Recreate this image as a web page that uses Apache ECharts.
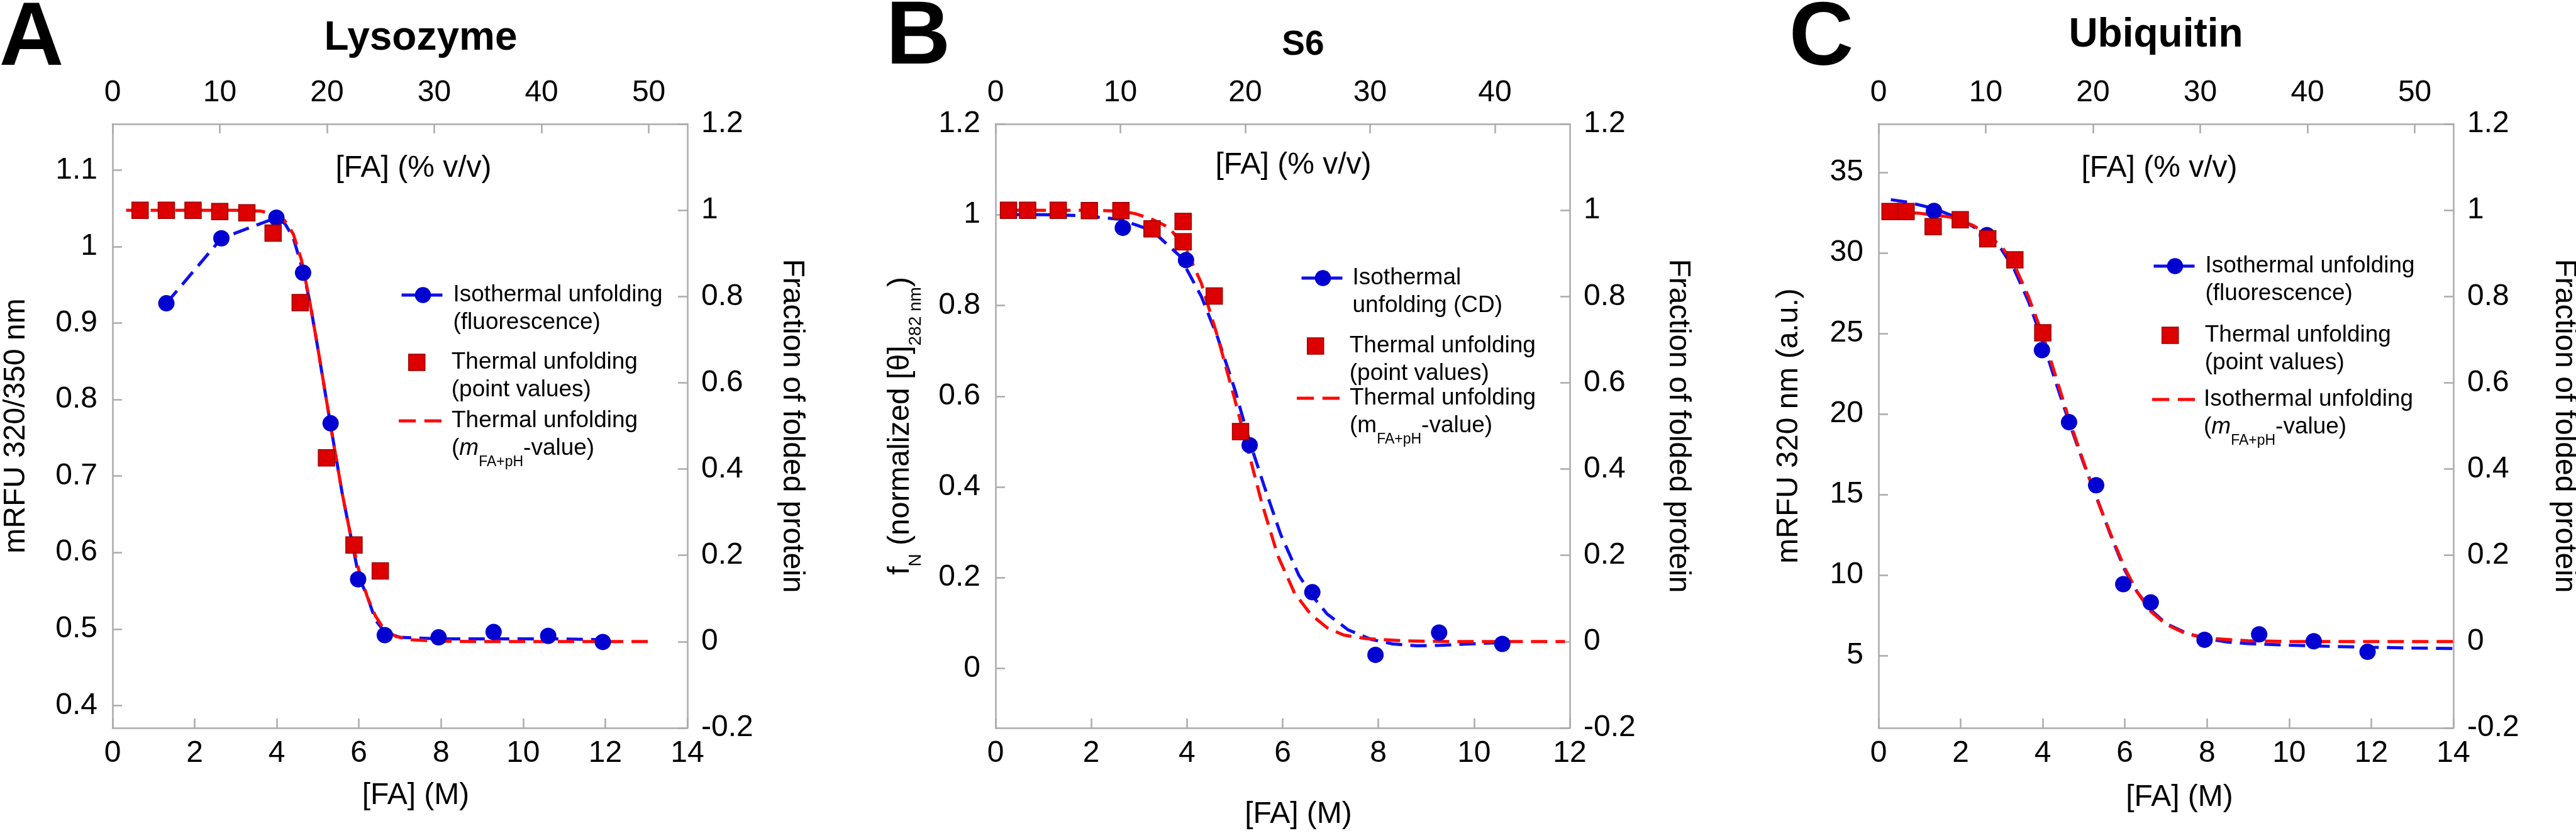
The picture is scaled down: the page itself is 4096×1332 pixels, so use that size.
<!DOCTYPE html>
<html><head><meta charset="utf-8">
<script src="https://cdn.jsdelivr.net/npm/echarts@6/dist/echarts.min.js"></script>
<style>html,body{margin:0;padding:0;background:#fff}#c{width:4096px;height:1332px}</style>
</head><body><div id="c"></div>
<script>
// ================= DATA =================
// Panel A – Lysozyme
const A_isoX = [1.31, 2.65, 3.99, 4.64, 5.31, 5.98, 6.63, 7.94, 9.28, 10.61, 11.94];
const A_isoY = [0.926, 1.011, 1.038, 0.966, 0.769, 0.565, 0.492, 0.489, 0.496, 0.491, 0.483];
const A_isoFitX = [1.31, 2.65, 3.99, 4.2, 4.4, 4.64, 4.8, 5.0, 5.2, 5.4, 5.6, 5.8, 6.0, 6.2, 6.4, 6.63, 7.0, 8.0, 9.0, 10.0, 11.0, 11.94];
const A_isoFitY = [0.926, 1.011, 1.038, 1.03, 1.012, 0.968, 0.929, 0.867, 0.802, 0.738, 0.675, 0.622, 0.568, 0.543, 0.512, 0.496, 0.489, 0.487, 0.487, 0.487, 0.487, 0.486];
const A_thermX = [0.67, 1.31, 1.96, 2.61, 3.27, 3.91, 4.57, 5.21, 5.88, 6.52];
const A_thermY = [1.0, 1.0, 1.0, 0.997, 0.994, 0.947, 0.786, 0.426, 0.224, 0.164];
const A_thermFitX = [0.33, 1, 2, 3, 3.6, 4.0, 4.2, 4.4, 4.6, 4.8, 5.0, 5.2, 5.4, 5.6, 5.8, 6.0, 6.2, 6.4, 6.6, 6.9, 7.3, 8, 9, 10, 11, 12, 13.2];
const A_thermFitY = [1, 1, 1, 1, 0.998, 0.99, 0.975, 0.945, 0.885, 0.79, 0.68, 0.565, 0.45, 0.34, 0.245, 0.165, 0.105, 0.06, 0.03, 0.012, 0.004, 0.001, 0, 0, 0, 0, 0];

// Panel B – S6
const B_isoX = [2.66, 3.98, 5.31, 6.62, 7.94, 9.27, 10.59];
const B_isoY = [0.971, 0.900, 0.492, 0.168, 0.030, 0.079, 0.054];
const B_isoFitX = [0.3, 1.0, 1.8, 2.6, 3.27, 3.84, 4.3, 4.64, 5.0, 5.31, 5.62, 5.96, 6.34, 6.62, 6.93, 7.37, 7.85, 8.3, 8.8, 9.3, 9.9, 10.59];
const B_isoFitY = [1.0, 1.0, 0.998, 0.99, 0.965, 0.91, 0.82, 0.73, 0.615, 0.50, 0.40, 0.295, 0.205, 0.16, 0.12, 0.085, 0.064, 0.054, 0.05, 0.051, 0.054, 0.057];
const B_thermX = [0.27, 0.67, 1.31, 1.96, 2.62, 3.27, 3.92, 3.92, 4.57, 5.12];
const B_thermY = [1.0, 1.0, 1.0, 0.999, 0.999, 0.957, 0.974, 0.927, 0.801, 0.487];
const B_thermFitX = [0.2, 1, 2, 2.6, 2.92, 3.27, 3.61, 3.95, 4.3, 4.64, 4.99, 5.21, 5.56, 5.9, 6.25, 6.59, 6.93, 7.28, 7.74, 8.5, 9.5, 10.5, 11.9];
const B_thermFitY = [1, 1, 1, 0.998, 0.992, 0.979, 0.961, 0.917, 0.831, 0.707, 0.565, 0.472, 0.323, 0.199, 0.112, 0.063, 0.032, 0.015, 0.007, 0.002, 0, 0, 0];

// Panel C – Ubiquitin
const C_isoX = [1.35, 2.64, 3.98, 4.64, 5.30, 5.96, 6.63, 7.94, 9.27, 10.6, 11.91];
const C_isoY = [32.6, 31.1, 23.96, 19.49, 15.58, 9.44, 8.31, 5.99, 6.33, 5.9, 5.24];
const C_isoFitX = [0.3, 0.7, 1.35, 2.0, 2.64, 3.0, 3.3, 3.65, 4.0, 4.3, 4.64, 5.0, 5.3, 5.65, 6.0, 6.3, 6.63, 7.0, 7.5, 8.0, 8.5, 9.0, 10.0, 11.0, 12.0, 13.0, 14.0];
const C_isoFitY = [33.3, 33.15, 32.75, 32.1, 31.1, 30.2, 29.0, 27.0, 24.5, 22.1, 19.5, 16.9, 14.9, 12.5, 10.3, 8.95, 7.85, 7.0, 6.4, 6.05, 5.85, 5.75, 5.65, 5.58, 5.52, 5.48, 5.45];
const C_thermX = [0.28, 0.67, 1.33, 1.99, 2.66, 3.32, 4.0];
const C_thermY = [0.997, 0.997, 0.962, 0.978, 0.934, 0.885, 0.716];
const C_thermFitX = [0.28, 1.0, 1.75, 2.3, 2.64, 3.0, 3.3, 3.65, 4.0, 4.3, 4.64, 5.0, 5.3, 5.65, 6.0, 6.3, 6.63, 7.0, 7.5, 8.0, 9.0, 10, 12, 14];
const C_thermFitY = [0.997, 0.993, 0.984, 0.965, 0.945, 0.915, 0.875, 0.80, 0.71, 0.62, 0.515, 0.415, 0.335, 0.25, 0.17, 0.115, 0.07, 0.04, 0.018, 0.008, 0.002, 0, 0, 0];

// Tick labels
const ticksM14 = [0, 2, 4, 6, 8, 10, 12, 14];
const ticksM12 = [0, 2, 4, 6, 8, 10, 12];
const ticksPct50 = [0, 10, 20, 30, 40, 50];
const ticksPct40 = [0, 10, 20, 30, 40];
const ticksFrac = [-0.2, 0, 0.2, 0.4, 0.6, 0.8, 1, 1.2];
const ticksA_left = [0.4, 0.5, 0.6, 0.7, 0.8, 0.9, 1, 1.1];
const ticksB_left = [0, 0.2, 0.4, 0.6, 0.8, 1, 1.2];
const ticksC_left = [5, 10, 15, 20, 25, 30, 35];

// Texts
const panelLetters = ['A', 'B', 'C'];
const panelTitles = ['Lysozyme', 'S6', 'Ubiquitin'];
const leftAxisNames = ['mRFU 320/350 nm', 'f{sub|N} (normalized [θ]{sub|282 nm})', 'mRFU 320 nm (a.u.)'];
const rightAxisName = 'Fraction of folded protein';
const bottomAxisName = '[FA] (M)';
const topAxisName = '[FA] (% v/v)';
const legendText = {
  A_isoFit: 'Isothermal unfolding\n(fluorescence)',
  A_thermPts: 'Thermal unfolding\n(point values)',
  A_thermFit: 'Thermal unfolding\n({it|m}{sub|FA+pH}-value)',
  B_isoFit: 'Isothermal\nunfolding (CD)',
  B_thermPts: 'Thermal unfolding\n(point values)',
  B_thermFit: 'Thermal unfolding\n(m{sub|FA+pH}-value)',
  C_isoFit: 'Isothermal unfolding\n(fluorescence)',
  C_thermPts: 'Thermal unfolding\n(point values)',
  C_thermFit: 'Isothermal unfolding\n({it|m}{sub|FA+pH}-value)'
};

// ================= CHART =================
const FONT = 'Liberation Sans';
const AX = '#ababab';
const BLUE_LINE = '#1010F0';
const BLUE_PT = '#0000D0';
const RED_LINE = '#FF0A0A';
const RED_PT = '#DD0000';
const DASH = [26, 13];
const LW = 5;
const zip = (xs, ys) => xs.map((x, i) => [x, ys[i]]);

function mkAxis(o) {
  return {
    type: 'value', gridIndex: o.grid, position: o.pos, min: o.min, max: o.max,
    axisLine: { show: true, onZero: false, lineStyle: { color: AX, width: 2.5 } },
    axisTick: { show: true, inside: true, length: 15, customValues: o.ticks, lineStyle: { color: AX, width: 2.5 } },
    axisLabel: { show: true, customValues: o.ticks, margin: o.margin, color: '#000', fontFamily: FONT, fontSize: 48 },
    splitLine: { show: false },
    name: o.name, nameLocation: 'middle', nameGap: o.nameGap, nameRotate: o.nameRotate,
    nameMoveOverlap: false,
    nameTextStyle: Object.assign({ color: '#000', fontFamily: FONT, fontSize: 48, lineHeight: 56,
      align: 'center', verticalAlign: 'middle', padding: o.namePad || [0, 0, 0, 0] }, o.rich ? { rich: o.rich } : {})
  };
}

const grids = [
  { left: 179, top: 197, width: 914, height: 960 },
  { left: 1583, top: 197, width: 913, height: 960 },
  { left: 2987, top: 197, width: 914, height: 960 }
].map(g => Object.assign(g, { containLabel: false, outerBoundsMode: 'none' }));

const subAxisRich = {
  sub: { fontFamily: FONT, fontSize: 28, lineHeight: 56, padding: [48, 0, 0, 0], color: '#000' }
};

const xAxes = [
  mkAxis({ grid: 0, pos: 'bottom', min: 0, max: 14, ticks: ticksM14, margin: 17, name: bottomAxisName, nameGap: 108, namePad: [0, 0, 0, 50] }),
  mkAxis({ grid: 0, pos: 'top', min: 0, max: 53.6, ticks: ticksPct50, margin: 25, name: topAxisName, nameGap: -71, namePad: [0, 0, 0, 43] }),
  mkAxis({ grid: 1, pos: 'bottom', min: 0, max: 12, ticks: ticksM12, margin: 17, name: bottomAxisName, nameGap: 138, namePad: [0, 0, 0, 50] }),
  mkAxis({ grid: 1, pos: 'top', min: 0, max: 46.0, ticks: ticksPct40, margin: 25, name: topAxisName, nameGap: -66, namePad: [0, 0, 0, 34] }),
  mkAxis({ grid: 2, pos: 'bottom', min: 0, max: 14, ticks: ticksM14, margin: 17, name: bottomAxisName, nameGap: 111, namePad: [0, 0, 0, 43] }),
  mkAxis({ grid: 2, pos: 'top', min: 0, max: 53.6, ticks: ticksPct50, margin: 25, name: topAxisName, nameGap: -71, namePad: [0, 21, 0, 0] })
];
const yAxes = [
  mkAxis({ grid: 0, pos: 'left', min: 0.3706, max: 1.1606, ticks: ticksA_left, margin: 24, name: leftAxisNames[0], nameGap: 153 }),
  mkAxis({ grid: 0, pos: 'right', min: -0.2, max: 1.2, ticks: ticksFrac, margin: 22, name: rightAxisName, nameGap: 166, nameRotate: -90 }),
  mkAxis({ grid: 1, pos: 'left', min: -0.131, max: 1.2, ticks: ticksB_left, margin: 24, name: leftAxisNames[1], nameGap: 151, rich: subAxisRich }),
  mkAxis({ grid: 1, pos: 'right', min: -0.2, max: 1.2, ticks: ticksFrac, margin: 22, name: rightAxisName, nameGap: 172, nameRotate: -90 }),
  mkAxis({ grid: 2, pos: 'left', min: 0.52, max: 38.0, ticks: ticksC_left, margin: 24, name: leftAxisNames[2], nameGap: 142 }),
  mkAxis({ grid: 2, pos: 'right', min: -0.2, max: 1.2, ticks: ticksFrac, margin: 22, name: rightAxisName, nameGap: 176, nameRotate: -90 })
];

function panelSeries(p, gi, isoFit, isoPts, thermFit, thermPts) {
  const xi = gi * 2, yl = gi * 2, yr = gi * 2 + 1;
  return [
    { type: 'line', name: p + '_isoFit', xAxisIndex: xi, yAxisIndex: yl, data: isoFit, symbol: 'circle', showSymbol: false,
      lineStyle: { color: BLUE_LINE, width: LW, type: DASH }, itemStyle: { color: BLUE_PT, borderWidth: 0, opacity: 1 }, z: 2, silent: true },
    { type: 'line', name: p + '_thermFit', xAxisIndex: xi, yAxisIndex: yr, data: thermFit, symbol: 'none', showSymbol: false,
      lineStyle: { color: RED_LINE, width: LW, type: DASH }, itemStyle: { color: RED_LINE, borderWidth: 0, opacity: 1 }, z: 3, silent: true },
    { type: 'scatter', name: p + '_isoPts', xAxisIndex: xi, yAxisIndex: yl, data: isoPts, symbol: 'circle', symbolSize: 26,
      itemStyle: { color: BLUE_PT, opacity: 1 }, z: 4, silent: true },
    { type: 'scatter', name: p + '_thermPts', xAxisIndex: xi, yAxisIndex: yr, data: thermPts, symbol: 'rect', symbolSize: 26,
      itemStyle: { color: RED_PT, borderColor: '#990000', borderWidth: 1.5, opacity: 1 }, z: 5, silent: true }
  ];
}

const series = [].concat(
  panelSeries('A', 0, zip(A_isoFitX, A_isoFitY), zip(A_isoX, A_isoY), zip(A_thermFitX, A_thermFitY), zip(A_thermX, A_thermY)),
  panelSeries('B', 1, zip(B_isoFitX, B_isoFitY), zip(B_isoX, B_isoY), zip(B_thermFitX, B_thermFitY), zip(B_thermX, B_thermY)),
  panelSeries('C', 2, zip(C_isoFitX, C_isoFitY), zip(C_isoX, C_isoY), zip(C_thermFitX, C_thermFitY), zip(C_thermX, C_thermY))
);

const legendRich = {
  it: { fontFamily: FONT, fontSize: 37, fontStyle: 'italic', lineHeight: 44, color: '#000' },
  sub: { fontFamily: FONT, fontSize: 23, lineHeight: 44, padding: [44, 0, 0, 0], color: '#000' }
};
const DASH_ICON = 'path://M0,0H26V1H0Z M39,0H65V1H39Z';
function mkLegend(name, left, y1, kind, padL) {
  const lg = {
    orient: 'vertical', left: left, top: y1 - 66, padding: 0, itemGap: 0, selectedMode: false,
    itemWidth: kind === 'pts' ? 26 : 68, itemHeight: kind === 'iso' ? 32 : (kind === 'pts' ? 26 : LW),
    formatter: n => legendText[n],
    textStyle: { color: '#000', fontFamily: FONT, fontSize: 37, lineHeight: 44, padding: [44, 0, 0, padL], rich: legendRich },
    lineStyle: { width: LW },
    itemStyle: { opacity: 1 },
    data: [name]
  };
  if (kind === 'fit') {
    lg.data = [{ name: name, icon: DASH_ICON }];
    lg.symbolKeepAspect = false;
    lg.itemStyle = { borderWidth: 0, opacity: 1 };
  }
  if (kind === 'pts') lg.itemStyle = { borderWidth: 1.5, borderColor: '#990000', opacity: 1 };
  return lg;
}
const legends = [
  mkLegend('A_isoFit', 636, 469, 'iso', 9),
  mkLegend('A_thermPts', 649, 576, 'pts', 37),
  mkLegend('A_thermFit', 634, 669, 'fit', 11),
  mkLegend('B_isoFit', 2067, 442, 'iso', 8),
  mkLegend('B_thermPts', 2078, 550, 'pts', 36),
  mkLegend('B_thermFit', 2062, 633, 'fit', 11),
  mkLegend('C_isoFit', 3422, 423, 'iso', 9),
  mkLegend('C_thermPts', 3437, 533, 'pts', 37),
  mkLegend('C_thermFit', 3422, 635, 'fit', 9)
];

const titles = [
  { text: panelTitles[0], left: 669, top: 61, fs: 64 },
  { text: panelTitles[1], left: 2072, top: 72, fs: 55 },
  { text: panelTitles[2], left: 3428, top: 56, fs: 64 }
].map(t => ({ text: t.text, left: t.left, top: t.top, padding: 0, textAlign: 'center', textVerticalAlign: 'middle',
  textStyle: { fontFamily: FONT, fontWeight: 'bold', fontSize: t.fs, lineHeight: t.fs, color: '#000' } }));

const letterPos = [[50, 64], [1460, 62], [2896, 64]];
const graphics = panelLetters.map((L, i) => ({
  type: 'text', x: letterPos[i][0], y: letterPos[i][1], silent: true,
  style: { text: L, font: 'bold 142px "Liberation Sans"', fill: '#000', align: 'center', verticalAlign: 'middle',
    textAlign: 'center', textVerticalAlign: 'middle' }
}));

const chart = echarts.init(document.getElementById('c'), null, { renderer: 'canvas' });
chart.setOption({
  animation: false,
  backgroundColor: '#fff',
  textStyle: { fontFamily: FONT, color: '#000' },
  title: titles,
  grid: grids,
  xAxis: xAxes,
  yAxis: yAxes,
  legend: legends,
  series: series,
  graphic: graphics
});
</script></body></html>
